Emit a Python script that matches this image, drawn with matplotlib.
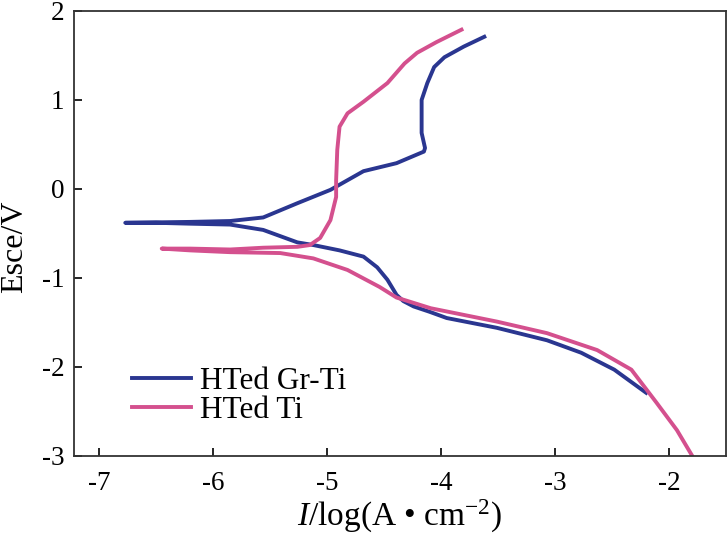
import matplotlib
matplotlib.use('Agg')
import matplotlib.pyplot as plt

plt.rcParams['font.family'] = ['Liberation Serif', 'DejaVu Serif']
plt.rcParams['mathtext.fontset'] = 'custom'
plt.rcParams['mathtext.rm'] = 'Liberation Serif'
plt.rcParams['mathtext.it'] = 'Liberation Serif:italic'
plt.rcParams['axes.unicode_minus'] = False
plt.rcParams['font.size'] = 19.5

# HTed Gr-Ti: cathodic branch (right end -> Ecorr), then anodic branch
gr_x = [-2.20, -2.48, -2.77, -3.07, -3.51, -3.95, -4.10, -4.24, -4.33, -4.39,
        -4.47, -4.56, -4.68, -4.89, -5.12, -5.26, -5.56, -5.85, -6.20, -6.50, -6.77,
        -6.20, -5.85, -5.56, -5.26, -4.97, -4.68, -4.39, -4.15, -4.14, -4.17,
        -4.17, -4.12, -4.06, -3.97, -3.80, -3.62]
gr_y = [-2.29, -2.03, -1.84, -1.70, -1.56, -1.45, -1.38, -1.32, -1.26, -1.19,
        -1.02, -0.88, -0.76, -0.69, -0.63, -0.60, -0.46, -0.40, -0.39, -0.38, -0.38,
        -0.37, -0.36, -0.32, -0.16, -0.01, 0.20, 0.29, 0.42, 0.46, 0.63,
        1.00, 1.19, 1.37, 1.48, 1.60, 1.71]

# HTed Ti
ti_x = [-1.80, -1.93, -2.11, -2.33, -2.63, -3.07, -3.51, -4.09, -4.39, -4.54,
        -4.82, -5.12, -5.41, -5.85, -6.20, -6.45,
        -6.20, -5.85, -5.56, -5.26, -5.15, -5.06, -4.97, -4.92, -4.92, -4.91,
        -4.89, -4.82, -4.68, -4.47, -4.32, -4.21, -4.04, -3.82]
ti_y = [-2.99, -2.71, -2.40, -2.03, -1.81, -1.62, -1.49, -1.34, -1.22, -1.10,
        -0.91, -0.78, -0.72, -0.71, -0.69, -0.67,
        -0.67, -0.68, -0.66, -0.65, -0.63, -0.55, -0.35, -0.09, 0.10, 0.44,
        0.70, 0.85, 0.98, 1.19, 1.41, 1.53, 1.65, 1.79]

fig = plt.figure(figsize=(7.28, 5.35), dpi=100)
ax = fig.add_axes([0.1016, 0.1477, 0.8956, 0.8318])

ax.plot(gr_x, gr_y, color='#2a3690', lw=2.8, label='HTed Gr-Ti')
ax.plot(ti_x, ti_y, color='#d4508e', lw=2.8, label='HTed Ti')

ax.set_xlim(-7.22, -1.5)
ax.set_ylim(-3, 2)
ax.set_xticks([-7, -6, -5, -4, -3, -2])
ax.set_yticks([-3, -2, -1, 0, 1, 2])
ax.tick_params(direction='in', length=6, width=1.2, top=False, right=False)
ax.tick_params(axis='x', pad=11)
ax.tick_params(axis='y', pad=7)
for sp in ax.spines.values():
    sp.set_linewidth(1.3)
    sp.set_color('#333333')

ax.set_xlabel('$I$/log(A • cm$^{-2}$)', fontsize=24, labelpad=1)
ax.set_ylabel('Esce/V', fontsize=23)
ax.yaxis.set_label_coords(-0.069, 0.47)

ax.legend(loc='lower left', bbox_to_anchor=(0.089, 0.07), frameon=False,
          borderpad=0, borderaxespad=0, handlelength=1.9, handletextpad=0.28,
          labelspacing=0.0, fontsize=22.5)

plt.savefig('out.png', dpi=100)
